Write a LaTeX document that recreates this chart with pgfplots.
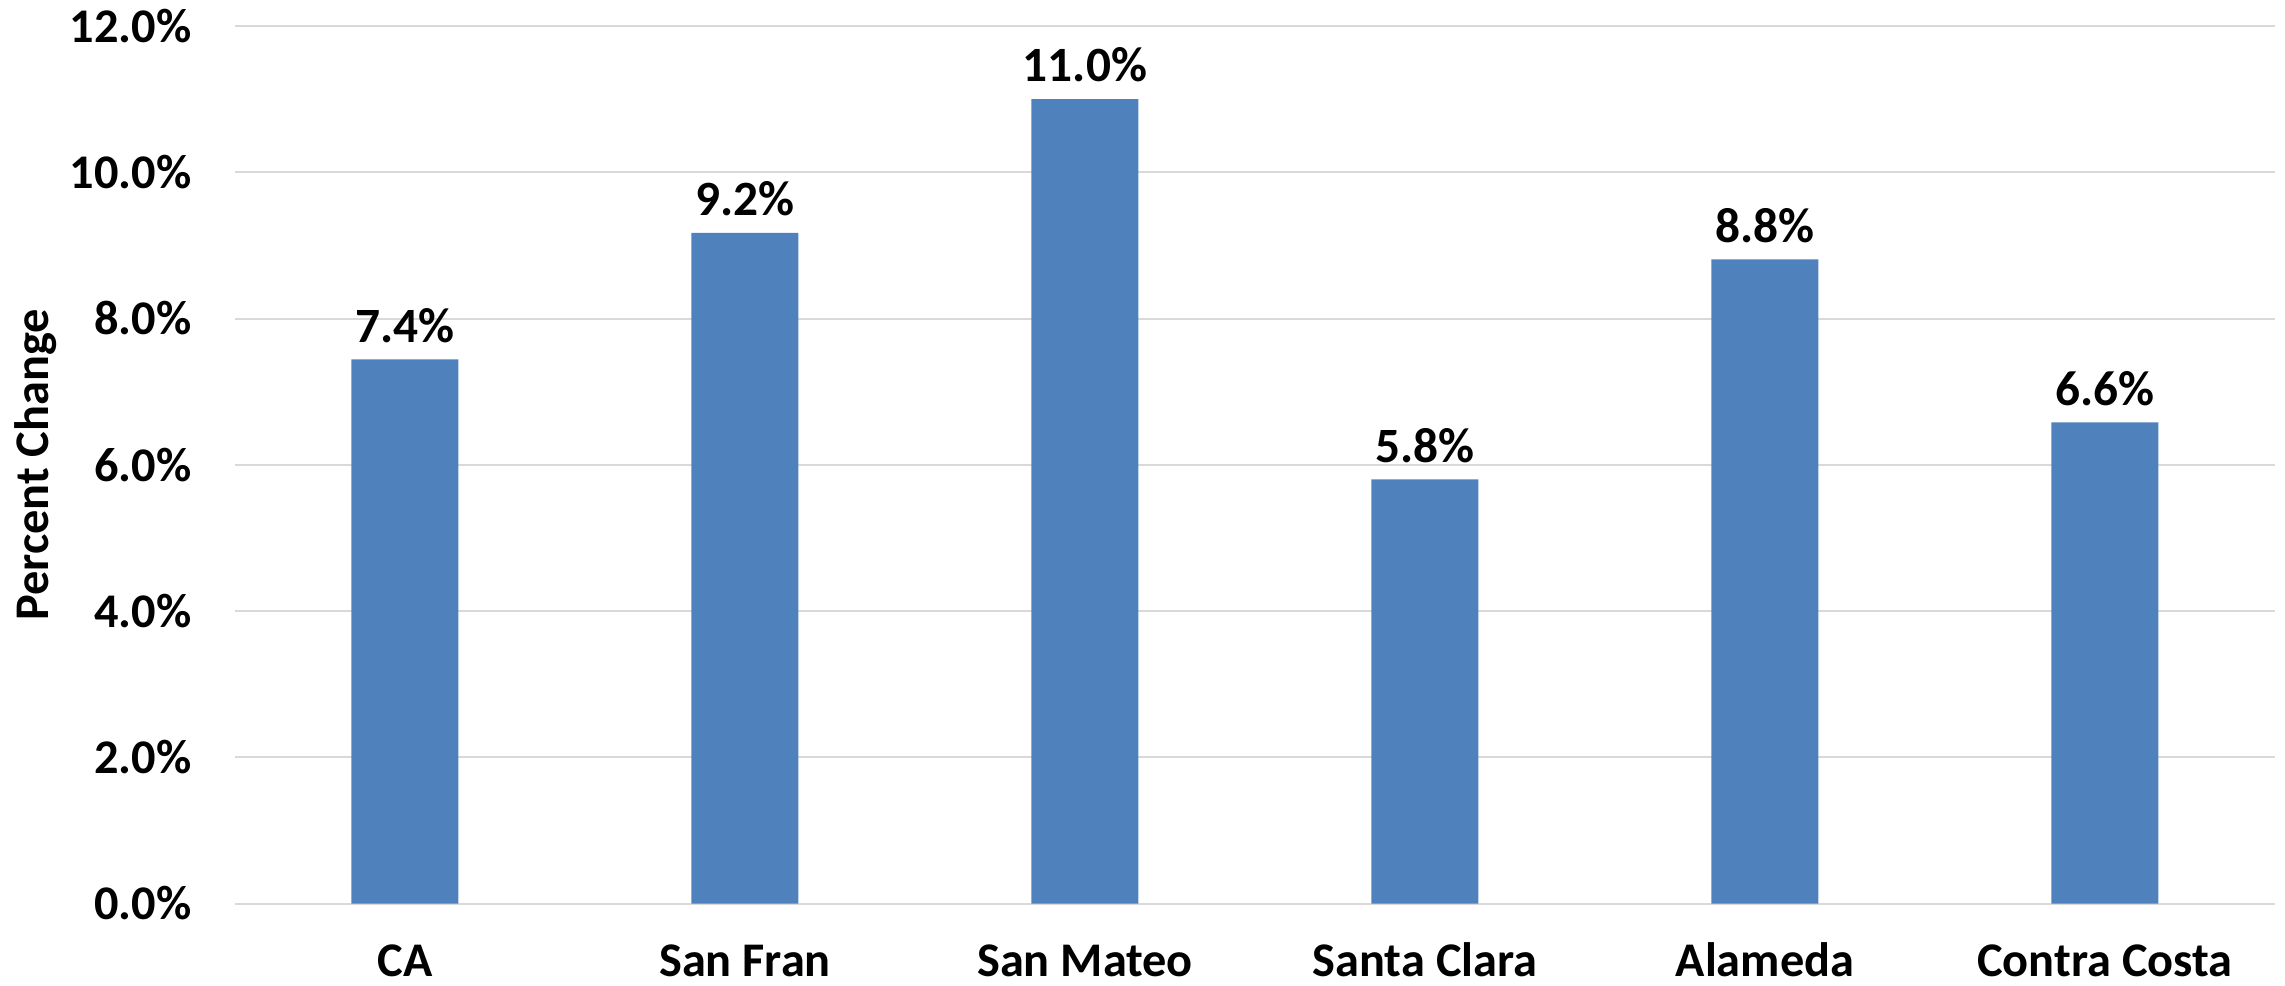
\documentclass[border=0pt]{standalone}
\usepackage{pgfplots}
\pgfplotsset{compat=1.18}
\usepackage{fontspec}
\setmainfont{Carlito}
\definecolor{barblue}{HTML}{4F81BD}
\definecolor{gridgray}{HTML}{D9D9D9}
\begin{document}
\begin{tikzpicture}
\useasboundingbox (-70.5pt,-24.45pt) rectangle (615pt,271.05pt);
\begin{axis}[
 at={(0,0)}, anchor=south west,
 scale only axis, width=612pt, height=263.25pt,
 xmin=-0.5, xmax=5.5, ymin=0, ymax=12,
 ybar, bar width=32.1pt,
 xtick={0,...,5},
 xticklabels={CA, San Fran, San Mateo, Santa Clara, Alameda, Contra Costa},
 ytick={0,2,...,12},
 yticklabel={\pgfmathprintnumber[fixed,fixed zerofill,precision=1]{\tick}\%},
 /pgf/number format/assume math mode=true,
 axis line style={draw=none},
 major tick length=0pt,
 ymajorgrids, grid style={gridgray, line width=0.6pt},
 tick label style={font=\fontsize{14.5}{17.4}\selectfont\bfseries},
 yticklabel style={xshift=-9.5pt},
 xticklabel style={anchor=base, inner sep=0pt, yshift=-22pt},
 ylabel={Percent Change},
 every axis y label/.style={at={(axis description cs:0,0.5)}, xshift=-59.7pt, rotate=90, anchor=center, font=\fontsize{14.5}{17.4}\selectfont\bfseries},
 nodes near coords={\pgfmathprintnumber[fixed,fixed zerofill,precision=1]{\pgfplotspointmeta}\%},
 every node near coord/.append style={font=\fontsize{14.8}{17.8}\selectfont\bfseries, yshift=1.5pt},
 clip=false,
]
\addplot[fill=barblue, draw=none] coordinates {(0,7.44) (1,9.17) (2,11.0) (3,5.8) (4,8.81) (5,6.58)};
\end{axis}
\end{tikzpicture}
\end{document}
